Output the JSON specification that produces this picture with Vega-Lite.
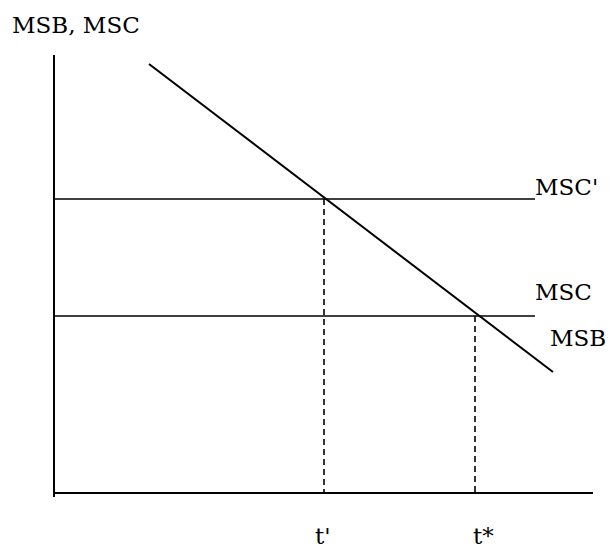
{
  "$schema": "https://vega.github.io/schema/vega-lite/v6.json",
  "width": 610,
  "height": 554,
  "autosize": {"type": "fit", "contains": "padding"},
  "padding": 0,
  "background": "white",
  "config": {"view": {"stroke": null}},
  "datasets": {
    "segs": [
      {"name": "yaxis", "role": "axis", "x1": 54, "y1": 55, "x2": 54, "y2": 497},
      {"name": "xaxis", "role": "axis", "x1": 54, "y1": 493, "x2": 593, "y2": 493},
      {"name": "MSC'", "role": "curve", "x1": 54, "y1": 199, "x2": 535, "y2": 199},
      {"name": "MSC", "role": "curve", "x1": 54, "y1": 316, "x2": 535, "y2": 316},
      {"name": "MSB", "role": "msb", "x1": 149, "y1": 64, "x2": 553, "y2": 372},
      {"name": "t'", "role": "dash", "x1": 324, "y1": 199, "x2": 324, "y2": 493},
      {"name": "t*", "role": "dash", "x1": 475, "y1": 316, "x2": 475, "y2": 493}
    ],
    "labels": [
      {"label": "MSB, MSC", "x": 12, "y": 33},
      {"label": "MSC'", "x": 535, "y": 195},
      {"label": "MSC", "x": 535, "y": 300},
      {"label": "MSB", "x": 550, "y": 346},
      {"label": "t'", "x": 315, "y": 544},
      {"label": "t*", "x": 473, "y": 544}
    ]
  },
  "encoding": {
    "x": {"field": "x1", "type": "quantitative", "scale": {"domain": [0, 610], "nice": false, "zero": false}, "axis": null},
    "y": {"field": "y1", "type": "quantitative", "scale": {"domain": [0, 554], "reverse": true, "nice": false, "zero": false}, "axis": null},
    "x2": {"field": "x2"},
    "y2": {"field": "y2"}
  },
  "layer": [
    {
      "data": {"name": "segs"},
      "transform": [{"filter": "datum.role === 'axis'"}],
      "mark": {"type": "rule", "color": "black", "strokeWidth": 2}
    },
    {
      "data": {"name": "segs"},
      "transform": [{"filter": "datum.role === 'curve'"}],
      "mark": {"type": "rule", "color": "black", "strokeWidth": 1.6}
    },
    {
      "data": {"name": "segs"},
      "transform": [{"filter": "datum.role === 'msb'"}],
      "mark": {"type": "rule", "color": "black", "strokeWidth": 2}
    },
    {
      "data": {"name": "segs"},
      "transform": [{"filter": "datum.role === 'dash'"}],
      "mark": {"type": "rule", "color": "black", "strokeWidth": 1.6, "strokeDash": [6, 4]}
    },
    {
      "data": {"name": "labels"},
      "mark": {"type": "text", "align": "left", "baseline": "alphabetic", "font": "DejaVu Serif", "fontSize": 23, "color": "black"},
      "encoding": {
        "x": {"field": "x", "type": "quantitative"},
        "y": {"field": "y", "type": "quantitative"},
        "x2": null,
        "y2": null,
        "text": {"field": "label"}
      }
    }
  ]
}
